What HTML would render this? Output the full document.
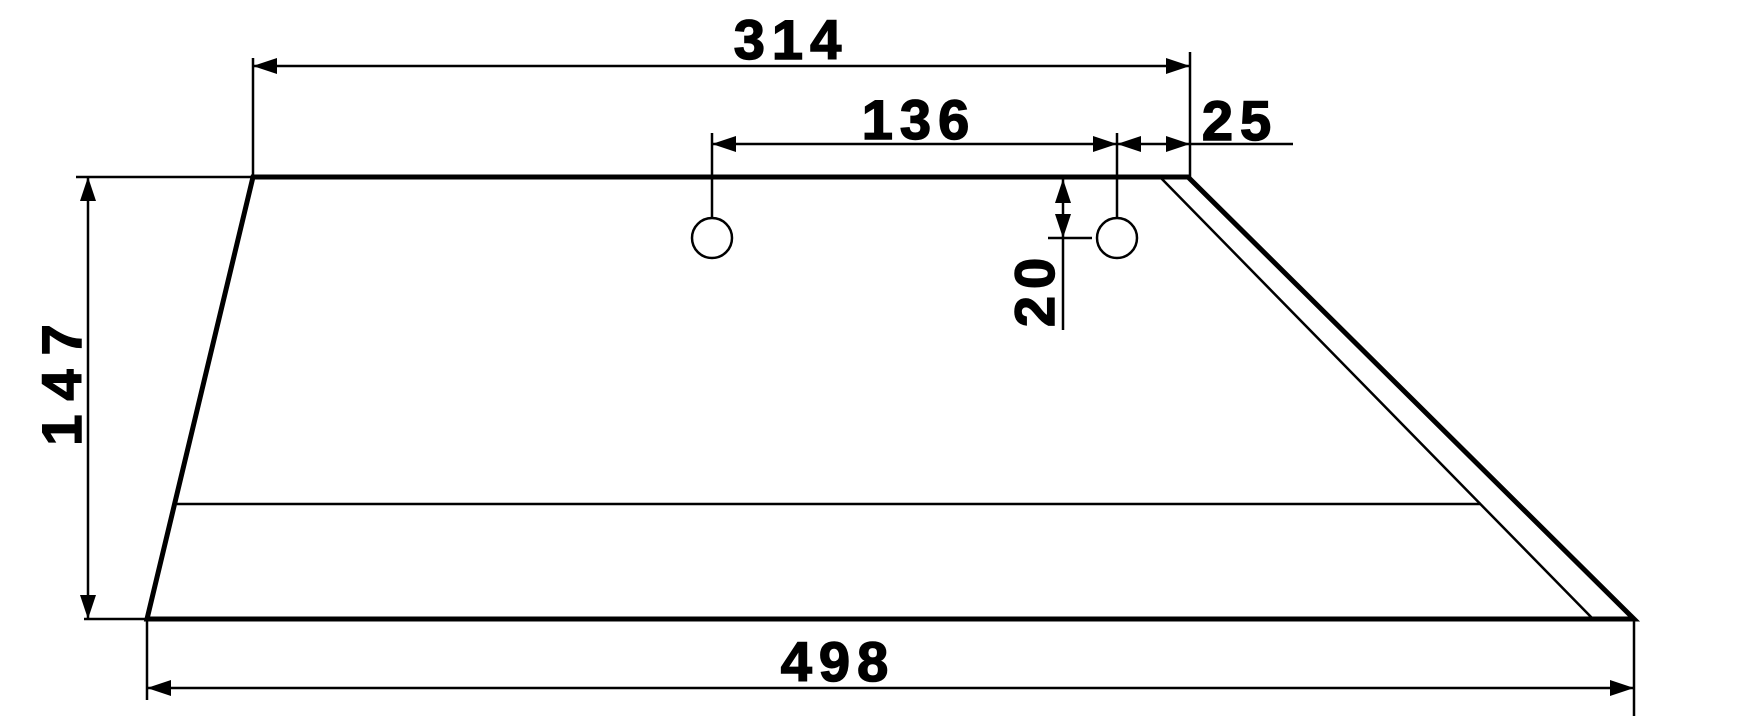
<!DOCTYPE html>
<html><head><meta charset="utf-8"><style>html,body{margin:0;padding:0;background:#fff}svg{display:block}</style></head>
<body>
<svg width="1737" height="723" viewBox="0 0 1737 723" xmlns="http://www.w3.org/2000/svg">
<defs>
<marker id="a" viewBox="0 0 24 16" refX="24" refY="8" markerWidth="24" markerHeight="16" markerUnits="userSpaceOnUse" orient="auto-start-reverse"><path d="M0,0 L24,8 L0,16 z" fill="#000"/></marker>
</defs>
<g stroke="#000" fill="none">
<path d="M253,177 L1188,177 L1634,619 L147,619 Z" stroke-width="5" stroke-linejoin="miter"/>
<line x1="1160" y1="177" x2="1593" y2="619" stroke-width="2.5"/>
<line x1="177" y1="504" x2="1481" y2="504" stroke-width="2.5"/>
<circle cx="712" cy="238" r="20" stroke-width="2.5"/>
<circle cx="1117" cy="238" r="20" stroke-width="2.5"/>
<line x1="253" y1="58" x2="253" y2="177" stroke-width="2.5"/>
<line x1="1190" y1="52" x2="1190" y2="177" stroke-width="2.5"/>
<line x1="76" y1="177" x2="253" y2="177" stroke-width="2.5"/>
<line x1="84" y1="619" x2="147" y2="619" stroke-width="2.5"/>
<line x1="147" y1="619" x2="147" y2="700" stroke-width="2.5"/>
<line x1="1634" y1="619" x2="1634" y2="716" stroke-width="2.5"/>
<line x1="712" y1="133" x2="712" y2="218" stroke-width="2.5"/>
<line x1="1117" y1="133" x2="1117" y2="218" stroke-width="2.5"/>
<line x1="1048" y1="238" x2="1092" y2="238" stroke-width="2.5"/>
<line x1="1063" y1="238" x2="1063" y2="330" stroke-width="2.5"/>
<line x1="253" y1="66" x2="1190" y2="66" stroke-width="2.5" marker-start="url(#a)" marker-end="url(#a)"/>
<line x1="712" y1="144" x2="1117" y2="144" stroke-width="2.5" marker-start="url(#a)" marker-end="url(#a)"/>
<line x1="1117" y1="144" x2="1190" y2="144" stroke-width="2.5" marker-start="url(#a)" marker-end="url(#a)"/>
<line x1="1190" y1="144" x2="1293" y2="144" stroke-width="2.5"/>
<line x1="1063" y1="179" x2="1063" y2="238" stroke-width="2.5" marker-start="url(#a)" marker-end="url(#a)"/>
<line x1="88" y1="177" x2="88" y2="619" stroke-width="2.5" marker-start="url(#a)" marker-end="url(#a)"/>
<line x1="147" y1="688" x2="1634" y2="688" stroke-width="2.5" marker-start="url(#a)" marker-end="url(#a)"/>
</g>
<g font-family="Liberation Sans, sans-serif" font-weight="bold" font-size="56" fill="#000" stroke="#000" stroke-width="1.5" text-anchor="middle" letter-spacing="7">
<text x="791" y="59">314</text>
<text x="919" y="139">136</text>
<text x="1240" y="140">25</text>
<text x="838" y="681">498</text>
<text transform="translate(81,378) rotate(-90)" letter-spacing="14">147</text>
<text transform="translate(1054,289) rotate(-90)">20</text>
</g>
</svg>
</body></html>
